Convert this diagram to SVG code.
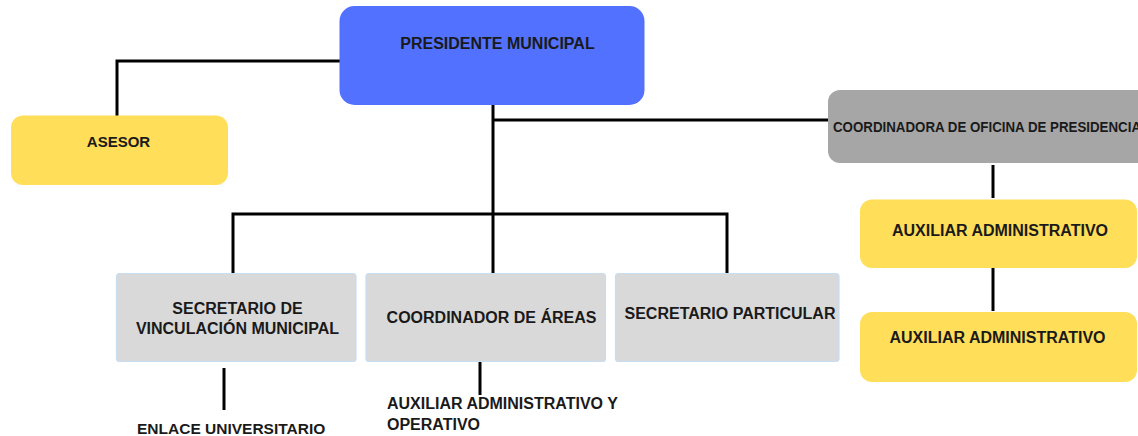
<svg xmlns="http://www.w3.org/2000/svg" width="1138" height="436" viewBox="0 0 1138 436">
<style>
.t{font-family:"Liberation Sans",Arial,sans-serif;font-weight:bold;font-size:16px;fill:#1a1a1a}
.c{text-anchor:middle}
.ln{fill:none;stroke:#000;stroke-width:3;stroke-linecap:butt;stroke-linejoin:miter}
.yel{fill:#FFDE59}
.gry{fill:#D9D9D9;stroke:#C6DDF2;stroke-width:1.2}
</style>
<rect width="1138" height="436" fill="#fff"/>
<g id="connectors">
<path class="ln" d="M340 61 H117 V116"/>
<path class="ln" d="M493 105 V273"/>
<path class="ln" d="M493 120 H828"/>
<path class="ln" d="M233 273 V214 H727 V273"/>
<path class="ln" d="M993 165 V198"/>
<path class="ln" d="M993 268 V311"/>
<path class="ln" d="M224 368 V410"/>
<path class="ln" d="M480 353 V395"/>
</g>
<g id="presidente">
<rect x="339.5" y="6" width="305" height="99" rx="15" fill="#5271FF"/>
<text class="t c" x="497.5" y="49">PRESIDENTE MUNICIPAL</text>
</g>
<g id="asesor">
<rect class="yel" x="11" y="115.5" width="217" height="69.5" rx="12"/>
<text class="t c" x="118.5" y="147" style="font-size:15px">ASESOR</text>
</g>
<g id="coordinadora">
<rect x="828" y="90" width="330" height="73" rx="12" fill="#A6A6A6"/>
<text class="t" x="833" y="131.5" textLength="308" lengthAdjust="spacingAndGlyphs" style="font-size:15.5px">COORDINADORA DE OFICINA DE PRESIDENCIA</text>
</g>
<g id="auxiliar1">
<rect class="yel" x="860" y="199.5" width="277" height="68.5" rx="12"/>
<text class="t c" x="1000" y="236">AUXILIAR ADMINISTRATIVO</text>
</g>
<g id="auxiliar2">
<rect class="yel" x="860" y="312" width="277" height="70" rx="12"/>
<text class="t c" x="997.5" y="342.5">AUXILIAR ADMINISTRATIVO</text>
</g>
<g id="secretario-vinculacion">
<rect class="gry" x="116.5" y="273.5" width="239.5" height="88" rx="3"/>
<text class="t c" x="237.5" y="314">SECRETARIO DE</text>
<text class="t c" x="237.5" y="333.5">VINCULACIÓN MUNICIPAL</text>
</g>
<g id="coordinador-areas">
<rect class="gry" x="366" y="273.5" width="239.5" height="88" rx="3"/>
<text class="t c" x="491.5" y="322.5">COORDINADOR DE ÁREAS</text>
</g>
<g id="secretario-particular">
<rect class="gry" x="615.5" y="273.5" width="223.5" height="88" rx="3"/>
<text class="t c" x="730" y="318.5">SECRETARIO PARTICULAR</text>
</g>
<g id="enlace">
<text class="t" x="137" y="434" style="font-size:15.5px">ENLACE UNIVERSITARIO</text>
</g>
<g id="auxiliar-operativo">
<text class="t" x="387" y="408.5">AUXILIAR ADMINISTRATIVO Y</text>
<text class="t" x="387" y="430">OPERATIVO</text>
</g>
</svg>
